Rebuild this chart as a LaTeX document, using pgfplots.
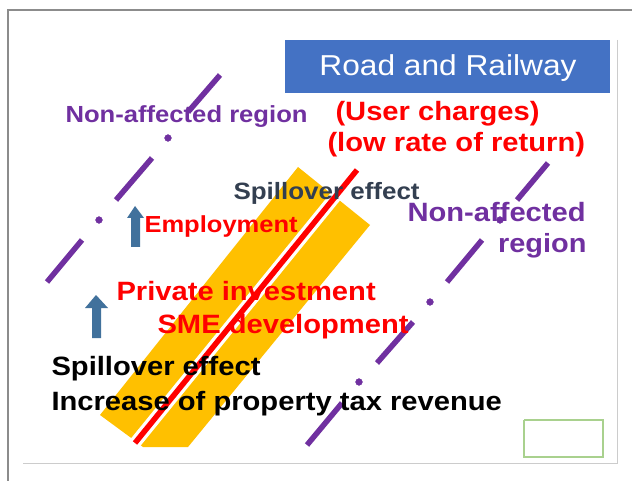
\documentclass[border=0pt]{standalone}
\usepackage{pgfplots}
\pgfplotsset{compat=1.18}
\usepackage{fontspec}
\setmainfont[FakeStretch=1.1]{Liberation Sans}
\definecolor{purp}{HTML}{7030A0}
\definecolor{band}{HTML}{FFC000}
\definecolor{boxblue}{HTML}{4472C4}
\definecolor{arrowblue}{HTML}{41719C}
\definecolor{slate}{HTML}{333F50}
\definecolor{greenbox}{HTML}{A9D18E}
\newcommand{\fs}[1]{\fontsize{#1}{#1}\selectfont}
\begin{document}
\begin{tikzpicture}
\begin{axis}[width=632pt,height=481pt,scale only axis,hide axis,
 xmin=0,xmax=632,ymin=0,ymax=481,y dir=reverse,enlargelimits=false,
 every node/.style={inner sep=0pt}]
% background and frame
\addplot[fill=white,draw=none] coordinates {(0,0)(632,0)(632,481)(0,481)};
\addplot[draw=gray!90,line width=1.3pt] coordinates {(8,481)(8,10)(632,10)};
\addplot[draw=gray!40,line width=1pt] coordinates {(617,40)(617,463)(23,463)};
% title box
\addplot[fill=boxblue,draw=none] coordinates {(285,40)(610,40)(610,93)(285,93)};
% orange band
\addplot[fill=band,draw=none] coordinates {(298,167)(370,225)(188,447)(143,447)(134,440)(100,415)};
% road line
\addplot[draw=white,line width=12pt] coordinates {(357,170)(135,443)};
\addplot[draw=red,line width=5.5pt] coordinates {(357,170)(135,443)};
% left dash-dot border
\addplot[draw=purp,line width=5.5pt] coordinates {(220,75)(188,112)};
\addplot[draw=purp,line width=5.5pt] coordinates {(152,158)(116,200)};
\addplot[draw=purp,line width=5.5pt] coordinates {(82,240)(47,282)};
\addplot[only marks,mark=*,mark size=3.4pt,purp] coordinates {(168,138)(99,220)};
% right dash-dot border
\addplot[draw=purp,line width=5.5pt] coordinates {(548,163)(517,200)};
\addplot[draw=purp,line width=5.5pt] coordinates {(482,240)(447,282)};
\addplot[draw=purp,line width=5.5pt] coordinates {(413,322)(377,363)};
\addplot[draw=purp,line width=5.5pt] coordinates {(342,403)(307,445)};
\addplot[only marks,mark=*,mark size=3.4pt,purp] coordinates {(500,220)(430,302)(359,382)};
% up arrows
\addplot[fill=arrowblue,draw=none] coordinates {(131,247)(131,218)(127,218)(135,206)(144,218)(140,218)(140,247)};
\addplot[fill=arrowblue,draw=none] coordinates {(92,338)(92,308)(85,308)(96,295)(108,308)(101,308)(101,338)};
% small green box
\addplot[draw=greenbox,line width=1.2pt] coordinates {(524,420)(603,420)(603,457)(524,457)(524,420)};
% texts
\node[text=white,anchor=base] at (axis cs:448,76) {\fs{28.8}Road and Railway};
\node[text=purp,anchor=base west] at (axis cs:62,123) {\fs{23.3}\bfseries Non-affected region};
\node[text=red,anchor=base west] at (axis cs:332,121) {\fs{26.5}\bfseries (User charges)};
\node[text=red,anchor=base west] at (axis cs:324,152) {\fs{26.5}\bfseries (low rate of return)};
\node[text=slate,anchor=base west] at (axis cs:230,200) {\fs{23.6}\bfseries Spillover effect};
\node[text=purp,anchor=base west] at (axis cs:404,222) {\fs{26.5}\bfseries Non-affected};
\node[text=purp,anchor=base east] at (axis cs:590,253) {\fs{26.3}\bfseries region};
\node[text=red,anchor=base west] at (axis cs:141,233) {\fs{23.2}\bfseries Employment};
\node[text=red,anchor=base west] at (axis cs:113,300) {\fs{26.5}\bfseries Private investment};
\node[text=red,anchor=base west] at (axis cs:154,333) {\fs{26.5}\bfseries SME development};
\node[text=black,anchor=base west] at (axis cs:48,375) {\fs{26.5}\bfseries Spillover effect};
\node[text=black,anchor=base west] at (axis cs:48,410) {\fs{26.5}\bfseries Increase of property tax revenue};
\end{axis}
\end{tikzpicture}
\end{document}
